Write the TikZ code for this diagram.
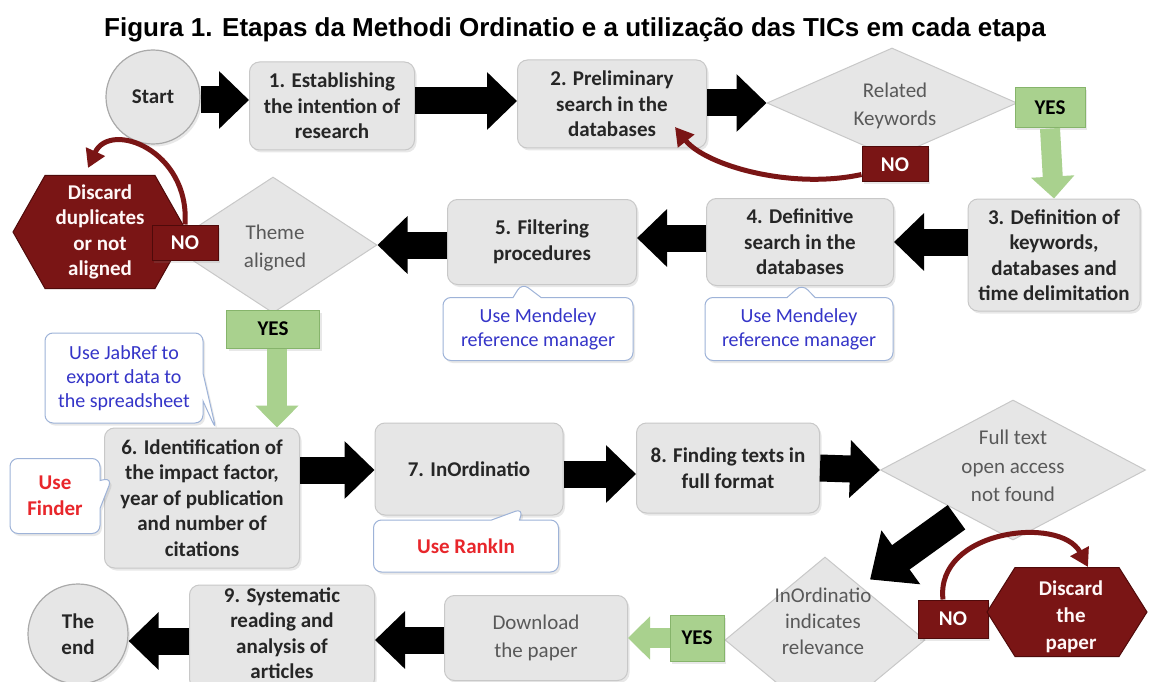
\documentclass[tikz,border=0pt]{standalone}
\usepackage{fontspec}
\setmainfont{Carlito}
\newfontfamily\titlefont{Liberation Sans}
\usetikzlibrary{shapes.geometric,shapes.callouts,arrows.meta,calc,shadows}

\definecolor{boxfill}{HTML}{E6E6E6}
\definecolor{boxline}{HTML}{C8C8C8}
\definecolor{txt}{HTML}{262626}
\definecolor{gtxt}{HTML}{595959}
\definecolor{dred}{HTML}{7A1515}
\definecolor{dredline}{HTML}{4F0A0A}
\definecolor{gfill}{HTML}{A9D18E}
\definecolor{gline}{HTML}{86B46B}
\definecolor{btxt}{HTML}{3535C8}
\definecolor{rtxt}{HTML}{E8262B}
\definecolor{cline}{HTML}{9EB3D8}

\newcommand\bxfont{\fontsize{21}{25.5}\selectfont\bfseries}
\newcommand\rgfont{\fontsize{21}{28.5}\selectfont}
\newcommand\cofont{\fontsize{20}{24}\selectfont}

\begin{document}
\begin{tikzpicture}[x=1pt,y=-1pt,
 shad/.style={drop shadow={opacity=0.18, shadow xshift=2pt, shadow yshift=-2.5pt}},
 box/.style={draw=boxline, fill=boxfill, rounded corners=10pt, line width=1pt, align=center, font=\bxfont, text=txt, inner sep=0pt, shad},
 circ/.style={circle, draw=boxline!85!black, fill=boxfill, line width=1.2pt, align=center, font=\bxfont, text=txt, minimum size=94pt, inner sep=0pt, shad},
 dia/.style={diamond, draw=boxline, fill=boxfill, line width=1pt, align=center, font=\rgfont, text=gtxt, inner sep=0pt},
 yesbox/.style={draw=gline, fill=gfill, line width=1pt, font=\bxfont, text=black, inner sep=0pt, shad},
 nobox/.style={draw=dredline, fill=dred, line width=1pt, font=\bxfont, text=white, inner sep=0pt, shad},
 hexa/.style={fill=dred, draw=dredline, line width=1pt},
 hextxt/.style={align=center, font=\bxfont, text=white!88!pink, inner sep=0pt},
 co/.style={rectangle callout, draw=cline, fill=white, line width=1pt, rounded corners=8pt, align=center, inner sep=0pt, callout pointer width=28pt, font=\cofont, text=btxt, shad},
 blk/.style={line width=27pt, -{Triangle[length=30pt,width=56pt]}},
 grn/.style={line width=20pt, gfill, -{Triangle[length=22pt,width=42pt]}},
 redarr/.style={line width=5pt, dred, -{Triangle[length=18pt,width=20pt]}},
]
\useasboundingbox (0,0) rectangle (1149,682);
\clip (0,0) rectangle (1149,682);
\fill[white] (0,0) rectangle (1149,682);

\node[font=\titlefont\fontsize{26}{30}\selectfont\bfseries] (title) at (575,30) {Figura 1. Etapas da Methodi Ordinatio e a utilização das TICs em cada etapa};

% ---- row 1
\node[circ] (start) at (153,97) {Start};
\node[box, minimum width=165pt, minimum height=88pt] (b1) at (332,106) {1. Establishing\\the intention of\\research};
\node[box, minimum width=189pt, minimum height=88pt] (b2) at (612,104) {2. Preliminary\\search in the\\databases};
\node[dia, minimum width=250pt, minimum height=110pt] (d1) at (892,103) {};
\node[font=\rgfont, text=gtxt, align=center, inner sep=0pt] (d1t) at (895,106) {Related\\Keywords};
\node[yesbox, minimum width=70pt, minimum height=40pt] (yes1) at (1050,108) {YES};
\node[nobox, minimum width=66pt, minimum height=35pt] (no1) at (895,164.5) {NO};

\draw[blk] (start.east |- 0,100) -- (b1.west |- 0,100);
\draw[blk] (b1.east |- 0,101) -- (b2.west |- 0,101);
\draw[blk] (b2.east |- 0,103) -- (d1.west);
\coordinate (r1) at (675,127);
\draw[redarr] ([yshift=-10pt]no1.west) .. controls (790,190) and (705,165) .. (r1);

% ---- row 2
\node[box, minimum width=172pt, minimum height=112pt] (b3) at (1054,255) {3. Definition of\\keywords,\\databases and\\time delimitation};
\node[box, minimum width=187pt, minimum height=87pt] (b4) at (800,242) {4. Definitive\\search in the\\databases};
\node[box, minimum width=189pt, minimum height=85pt] (b5) at (542,242) {5. Filtering\\procedures};
\node[co, minimum width=188pt, minimum height=63pt, callout absolute pointer={($(b4.south)+(2,-2)$)}] (c4) at (799,329) {Use Mendeley\\reference manager};
\node[co, minimum width=190pt, minimum height=63pt, callout absolute pointer={($(b5.south)+(-20,-2)$)}] (c5) at (538,329) {Use Mendeley\\reference manager};
\draw[grn] (yes1.south) -- (b3.north);

\node[dia, minimum width=208pt, minimum height=136pt] (d2) at (273,245) {};
\node[font=\rgfont, text=gtxt, align=center, inner sep=0pt] (d2t) at (275,248) {Theme\\aligned};
\filldraw[hexa] (13,232) -- (45,175.5) -- (155,175.5) -- (187,232) -- (155,288.5) -- (45,288.5) -- cycle;
\node[hextxt] (disc1) at (100,232) {Discard\\duplicates\\or not\\aligned};
\node[nobox, minimum width=66pt, minimum height=35pt] (no2) at (185,242.5) {NO};
\coordinate (r2) at (88,168);
\draw[redarr] (no2.north) .. controls (190,150) and (110,120) .. (r2);

\draw[blk] (b3.west |- 0,242) -- (b4.east |- 0,242);
\draw[blk] (b4.west |- 0,238) -- (b5.east |- 0,238);
\draw[blk] (b5.west |- 0,245) -- (d2.east);

\node[yesbox, minimum width=93pt, minimum height=38pt] (yes2) at (273,329) {YES};

% ---- row 3
\node[box, minimum width=195pt, minimum height=140pt] (b6) at (202,498) {6. Identification of\\the impact factor,\\year of publication\\and number of\\citations};
\draw[grn] (yes2.south -| 277,0) -- (b6.north -| 277,0);
\node[co, minimum width=158pt, minimum height=90pt, callout absolute pointer={($(b6.north west)+(112,2)$)}] (cJ) at (124,378) {Use JabRef to\\export data to\\the spreadsheet};
\node[co, minimum width=90pt, minimum height=75pt, callout absolute pointer={($(b6.west)+(8,-20)$)}, font=\bxfont, text=rtxt] (cF) at (55,496) {Use\\Finder};
\node[box, minimum width=188pt, minimum height=92pt] (b7) at (469,469) {7. InOrdinatio};
\node[co, minimum width=185pt, minimum height=52pt, callout absolute pointer={($(b7.south)+(54,-7)$)}, font=\bxfont, text=rtxt] (cR) at (466,546) {Use RankIn};
\node[box, minimum width=183pt, minimum height=90pt] (b8) at (728,468) {8. Finding texts in\\full format};
\node[dia, minimum width=265pt, minimum height=140pt] (d3) at (1013,470) {};
\node[font=\rgfont, text=gtxt, align=center, inner sep=0pt] (d3t) at (1013,466) {Full text\\open access\\not found};

\draw[blk] (b6.east |- 0,470) -- (b7.west |- 0,470);
\draw[blk] (b7.east |- 0,474) -- (b8.west |- 0,474);
\draw[blk] (b8.east |- 0,468) -- (d3.west);

% ---- row 4
\node[dia, minimum width=200pt, minimum height=166pt] (d4) at (825,640) {};
\node[font=\fontsize{21}{26}\selectfont, text=gtxt, align=center, inner sep=0pt] (d4t) at (823,621) {InOrdinatio\\indicates\\relevance};
\draw[line width=30pt, -{Triangle[length=38pt,width=64pt]}] ($(d3.south west)+(10,12)$) -- ($(d4.north)+(45,23)$);
\node[yesbox, minimum width=54pt, minimum height=46pt] (yes3) at (697,638) {YES};
\node[nobox, minimum width=70pt, minimum height=38pt] (no3) at (953,619) {NO};
\filldraw[hexa] (987,612) -- (1015,567.5) -- (1119,567.5) -- (1147,612) -- (1119,656.5) -- (1015,656.5) -- cycle;
\node[hextxt, font=\fontsize{21}{27}\selectfont\bfseries] (disc2) at (1071,617) {Discard\\the\\paper};
\coordinate (r3) at (1088,567);
\draw[redarr] (no3.north -| 943,0) .. controls (935,530) and (1060,515) .. (r3);

\node[box, font=\rgfont, text=gtxt, minimum width=183pt, minimum height=85pt] (dl) at (536,638) {Download\\the paper};
\draw[grn] (yes3.west) -- (dl.east |- yes3.west);
\node[box, minimum width=185pt, minimum height=104pt] (b9) at (282,637) {};
\node[font=\bxfont, text=txt, align=center, inner sep=0pt] (b9t) at (282,633) {9. Systematic\\reading and\\analysis of\\articles};
\draw[blk] (dl.west |- 0,640) -- (b9.east |- 0,640);
\node[circ, minimum size=100pt] (fin) at (78,634) {The\\end};
\draw[blk] (b9.west |- 0,641) -- (fin.east |- 0,641);
\end{tikzpicture}
\end{document}
